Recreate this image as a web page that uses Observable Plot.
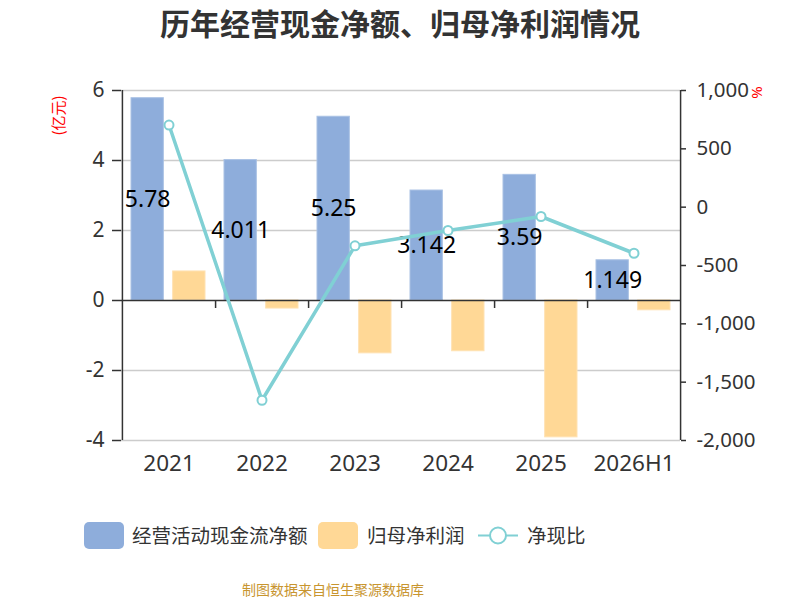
<!DOCTYPE html>
<html><head><meta charset="utf-8">
<script src="https://cdn.jsdelivr.net/npm/d3@7"></script>
<script src="https://cdn.jsdelivr.net/npm/@observablehq/plot@0.6"></script>
<style>
body{margin:0;background:#fff;font-family:"Noto Sans CJK SC","Noto Sans",sans-serif;}
#wrap{position:relative;width:800px;height:600px;overflow:hidden;}
#title{position:absolute;top:1px;left:0;width:800px;text-align:center;font-size:30px;font-weight:bold;color:#333;line-height:42px;}
#chart{position:absolute;top:50px;left:0;}
.lg{position:absolute;font-size:19.5px;color:#333;line-height:28px;top:521px;white-space:nowrap;}
.sw{position:absolute;width:40px;height:27px;border-radius:5px;top:522px;}
#foot{position:absolute;left:242px;top:578px;font-size:14px;color:#c8952f;line-height:22px;}
</style></head>
<body><div id="wrap">
<div id="title">历年经营现金净额、归母净利润情况</div>
<div id="chart"></div>
<div class="sw" style="left:84px;background:#8eaddb"></div>
<div class="lg" style="left:132px">经营活动现金流净额</div>
<div class="sw" style="left:318px;background:#ffd896"></div>
<div class="lg" style="left:367px">归母净利润</div>
<svg style="position:absolute;left:476px;top:522px" width="44" height="27">
<line x1="2" y1="13.5" x2="42" y2="13.5" stroke="#80d0d4" stroke-width="2"/>
<circle cx="22" cy="13.5" r="8" fill="#fff" stroke="#80d0d4" stroke-width="2"/>
</svg>
<div class="lg" style="left:527px">净现比</div>
<div id="foot">制图数据来自恒生聚源数据库</div>
</div>
<script>
const categories = ["2021","2022","2023","2024","2025","2026H1"];
const cashFlow = [5.78, 4.011, 5.25, 3.142, 3.59, 1.149];
const netProfit = [0.83, -0.23, -1.51, -1.45, -3.91, -0.28];
const ratio = [704, -1655, -331, -200, -80, -395];
const leftTicks = [-4, -2, 0, 2, 4, 6];
const rightTicks = [-2000, -1500, -1000, -500, 0, 500, 1000];
const cashLabels = ["5.78", "4.011", "5.25", "3.142", "3.59", "1.149"];

const BLUE = "#8eaddb", ORANGE = "#ffd896", TEAL = "#80d0d4", AX = "#333";
const W = 800, H = 440, mL = 121, mR = 120, mT = 40, mB = 50;
const bw = (W - mL - mR) / categories.length;

// right axis (%) mapped onto the left scale
const lMin = d3.min(leftTicks), lMax = d3.max(leftTicks);
const rMin = d3.min(rightTicks), rMax = d3.max(rightTicks);
const toLeft = r => lMin + (r - rMin) / (rMax - rMin) * (lMax - lMin);
const fromLeft = v => rMin + (v - lMin) / (lMax - lMin) * (rMax - rMin);

const data = categories.map((c, i) => ({cat: c, cf: cashFlow[i], np: netProfit[i], ratio: ratio[i], label: cashLabels[i]}));
const fmt = n => d3.format(",")(n).replace("\u2212", "-");

const chart = Plot.plot({
  width: W, height: H,
  marginLeft: mL, marginRight: mR, marginTop: mT, marginBottom: mB,
  style: {fontFamily: '"Noto Sans","Noto Sans CJK SC",sans-serif', background: "#fff"},
  x: {type: "band", domain: categories, padding: 0, axis: null},
  y: {domain: [lMin, lMax], axis: null},
  marks: [
    Plot.gridY(leftTicks.filter(d => d !== 0), {stroke: "#ccc", strokeOpacity: 1, strokeWidth: 1.5}),
    Plot.barY(data, {x: "cat", y: "cf", fill: BLUE, stroke: "#a9c1e4", strokeWidth: 1, insetLeft: 9, insetRight: bw - 9 - 32.5}),
    Plot.barY(data, {x: "cat", y: "np", fill: ORANGE, stroke: "#ffe2b2", strokeWidth: 1, insetLeft: bw - 10 - 32.5, insetRight: 10}),
    // x axis line at zero
    Plot.ruleY([0], {stroke: AX, strokeWidth: 1.5}),
    // x ticks at band boundaries
    Plot.ruleX(categories.slice(0, -1), {y1: 0, y2: 0, insetBottom: -8, dx: bw / 2, stroke: AX, strokeWidth: 1.5}),
    // vertical axis lines
    Plot.ruleX([categories[0]], {y1: lMin, y2: lMax, dx: -bw / 2, stroke: AX, strokeWidth: 1.5}),
    Plot.ruleX([categories[categories.length - 1]], {y1: lMin, y2: lMax, dx: bw / 2, stroke: AX, strokeWidth: 1.5}),
    Plot.axisY(leftTicks, {anchor: "left", tickSize: 9, tickPadding: 8, fontSize: 21, color: AX, stroke: AX, strokeWidth: 1.5, tickFormat: d => String(d).replace("\u2212", "-"), label: null}),
    Plot.axisY(rightTicks.map(toLeft), {anchor: "right", tickSize: 5, tickPadding: 11, fontSize: 20.5, color: AX, stroke: AX, strokeWidth: 1.5, tickFormat: v => fmt(Math.round(fromLeft(v))), label: null}),
    Plot.axisX(categories, {anchor: "bottom", tickSize: 0, tickPadding: 15, fontSize: 22.5, color: AX, label: null}),
    Plot.text(data, {x: "cat", y: d => d.cf / 2, text: "label", dx: -bw / 2 + 9 + 16.25, fontSize: 23, fill: "#000"}),
    Plot.line(data, {x: "cat", y: d => toLeft(d.ratio), stroke: TEAL, strokeWidth: 3.5}),
    Plot.dot(data, {x: "cat", y: d => toLeft(d.ratio), r: 4.5, fill: "#fff", stroke: TEAL, strokeWidth: 2}),
    Plot.text(["(亿元)"], {frameAnchor: "top-left", textAnchor: "middle", lineAnchor: "middle", dx: -62, dy: 25, rotate: -90, fill: "red", fontSize: 15, fontFamily: '"Noto Sans CJK SC",sans-serif'}),
    Plot.text(["%"], {frameAnchor: "top-right", textAnchor: "middle", lineAnchor: "middle", dx: 77, dy: 2, rotate: -90, fill: "red", fontSize: 15})
  ]
});
document.getElementById("chart").appendChild(chart);
</script>
</body></html>
